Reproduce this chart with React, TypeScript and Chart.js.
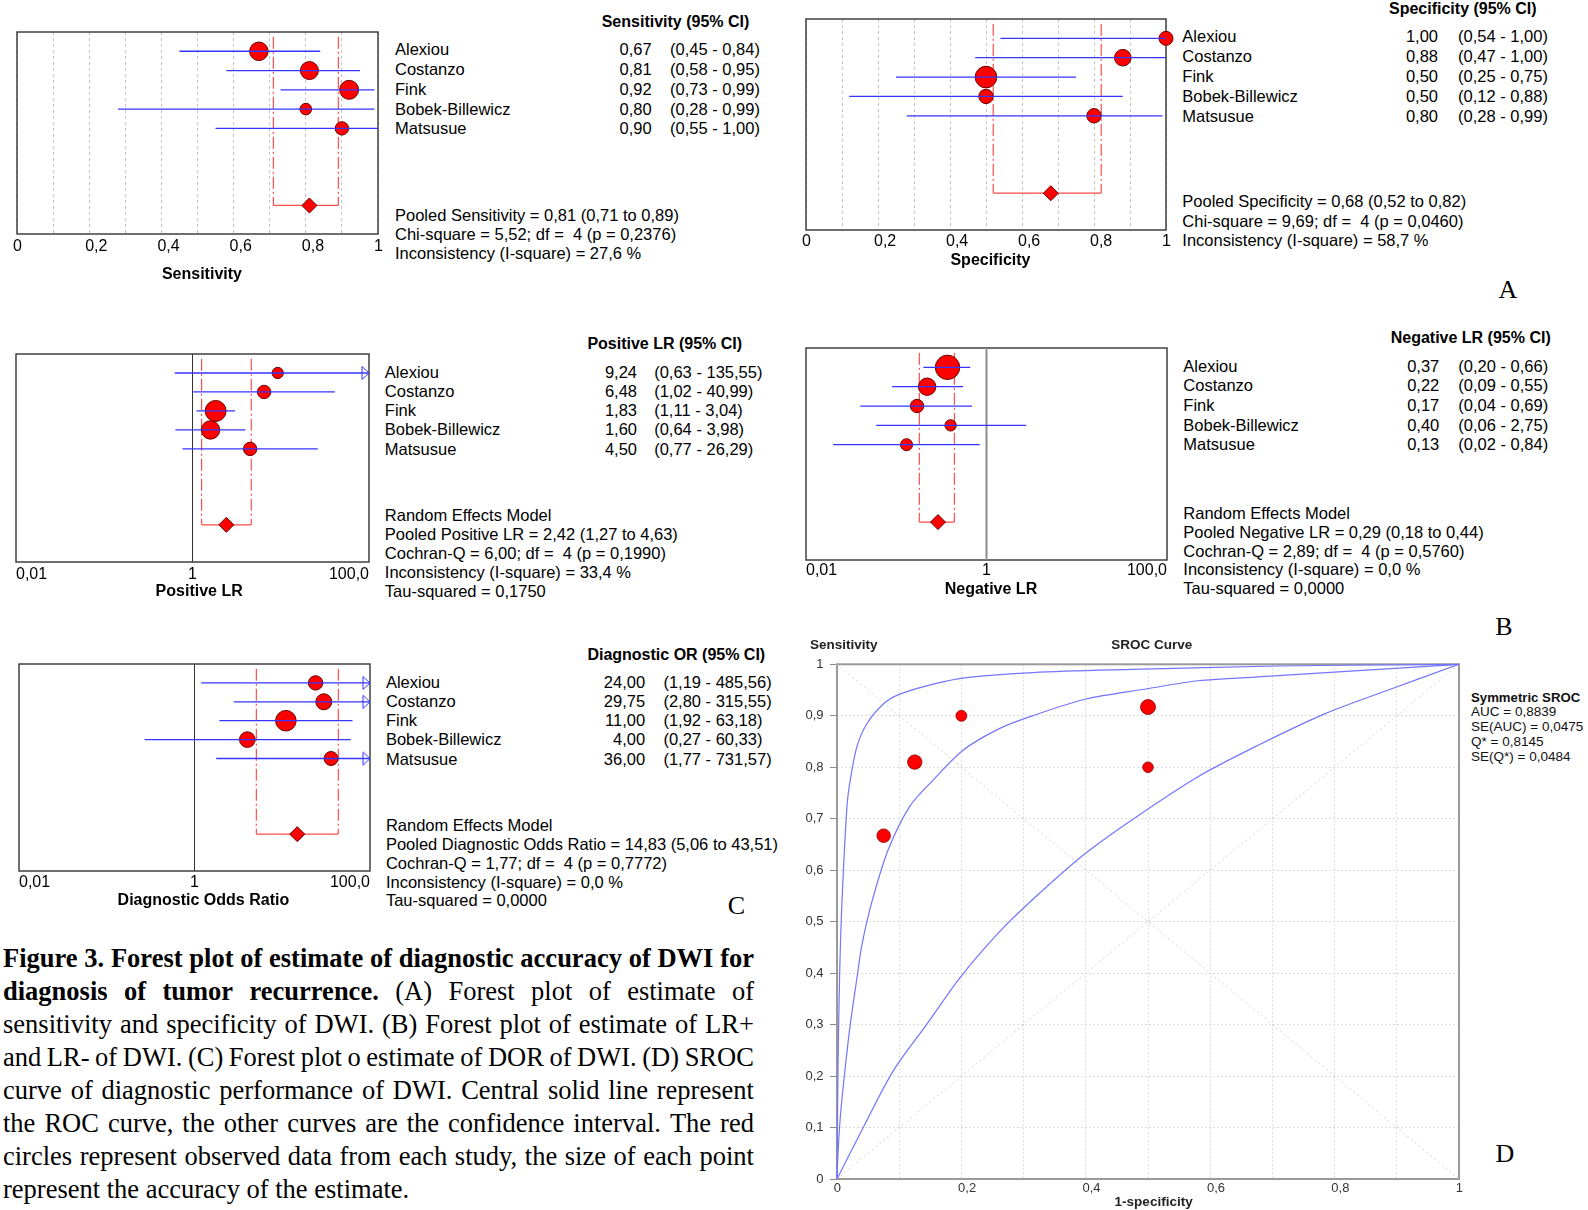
import React, { useEffect, useRef } from "react";
import { Chart, registerables } from "chart.js";

Chart.register(...registerables);

const SANS = '"Liberation Sans", Arial, Helvetica, sans-serif';
const SERIF = '"Liberation Serif", "Times New Roman", Times, serif';

// ---------------- data ----------------
const studies = ["Alexiou", "Costanzo", "Fink", "Bobek-Billewicz", "Matsusue"];

const sensEst = [0.67, 0.81, 0.92, 0.8, 0.9];
const sensLow = [0.45, 0.58, 0.73, 0.28, 0.55];
const sensHigh = [0.84, 0.95, 0.99, 0.99, 1.0];
const sensWeight = [86, 81, 90, 34, 45];
const sensPooled = [0.81, 0.71, 0.89];
const sensStats = ["Chi-square = 5,52; df =  4 (p = 0,2376)", "Inconsistency (I-square) = 27,6 %"];

const specEst = [1.0, 0.88, 0.5, 0.5, 0.8];
const specLow = [0.54, 0.47, 0.25, 0.12, 0.28];
const specHigh = [1.0, 1.0, 0.75, 0.88, 0.99];
const specWeight = [49, 69, 117, 52, 52];
const specPooled = [0.68, 0.52, 0.82];
const specStats = ["Chi-square = 9,69; df =  4 (p = 0,0460)", "Inconsistency (I-square) = 58,7 %"];

const plrEst = [9.24, 6.48, 1.83, 1.6, 4.5];
const plrLow = [0.63, 1.02, 1.11, 0.64, 0.77];
const plrHigh = [135.55, 40.99, 3.04, 3.98, 26.29];
const plrWeight = [32, 45, 110, 85, 45];
const plrPooled = [2.42, 1.27, 4.63];
const plrStats = ["Cochran-Q = 6,00; df =  4 (p = 0,1990)", "Inconsistency (I-square) = 33,4 %", "Tau-squared = 0,1750"];

const nlrEst = [0.37, 0.22, 0.17, 0.4, 0.13];
const nlrLow = [0.2, 0.09, 0.04, 0.06, 0.02];
const nlrHigh = [0.66, 0.55, 0.69, 2.75, 0.84];
const nlrWeight = [149, 76, 45, 32, 36];
const nlrPooled = [0.29, 0.18, 0.44];
const nlrStats = ["Cochran-Q = 2,89; df =  4 (p = 0,5760)", "Inconsistency (I-square) = 0,0 %", "Tau-squared = 0,0000"];

const dorEst = [24.0, 29.75, 11.0, 4.0, 36.0];
const dorLow = [1.19, 2.8, 1.92, 0.27, 1.77];
const dorHigh = [485.56, 315.55, 63.18, 60.33, 731.57];
const dorWeight = [52, 64, 106, 61, 49];
const dorPooled = [14.83, 5.06, 43.51];
const dorStats = ["Cochran-Q = 1,77; df =  4 (p = 0,7772)", "Inconsistency (I-square) = 0,0 %", "Tau-squared = 0,0000"];

const unitTicks = [0, 0.1, 0.2, 0.3, 0.4, 0.5, 0.6, 0.7, 0.8, 0.9, 1];
const unitTickLabels = ["0", "", "0,2", "", "0,4", "", "0,6", "", "0,8", "", "1"];
const logTicks = [0.01, 1, 100];
const logTickLabels = ["0,01", "1", "100,0"];
const srocYLabels = ["0", "0,1", "0,2", "0,3", "0,4", "0,5", "0,6", "0,7", "0,8", "0,9", "1"];

// SROC observed points
const srocFpr = [0.075, 0.125, 0.2, 0.5, 0.5];
const srocSens = [0.667, 0.81, 0.9, 0.917, 0.8];
const srocWeight = [46, 52, 30, 56, 28];
// SROC curve and its confidence limits
const srocMidX = [0, 0.0016, 0.0053, 0.0133, 0.0213, 0.032, 0.04, 0.056, 0.0826, 0.117, 0.1546, 0.2026, 0.261, 0.3146, 0.4, 0.496, 0.581, 0.677, 1];
const srocMidY = [0, 0.05, 0.12, 0.217, 0.3, 0.39, 0.4545, 0.538, 0.6405, 0.724, 0.775, 0.833, 0.875, 0.9, 0.9326, 0.952, 0.968, 0.9756, 1];
const srocUpX = [0, 0.0016, 0.0043, 0.008, 0.016, 0.0213, 0.032, 0.048, 0.0746, 0.101, 0.155, 0.208, 0.315, 0.475, 0.709, 1];
const srocUpY = [0, 0.217, 0.4, 0.538, 0.724, 0.775, 0.84, 0.8845, 0.923, 0.942, 0.9615, 0.974, 0.984, 0.99, 0.9967, 1];
const srocLoX = [0, 0.0426, 0.0906, 0.144, 0.197, 0.261, 0.3146, 0.3946, 0.4746, 0.581, 0.677, 0.784, 0.8906, 1];
const srocLoY = [0, 0.101, 0.2105, 0.3, 0.39, 0.48, 0.543, 0.628, 0.698, 0.782, 0.8427, 0.9037, 0.952, 1];
const diagX = [0, 1];
const chanceY = [0, 1];
const symY = [1, 0];
const srocLegend = ["AUC = 0,8839", "SE(AUC) = 0,0475", "Q* = 0,8145", "SE(Q*) = 0,0484"];

const caption: [string, string][] = [
  ["Figure 3. Forest plot of estimate of diagnostic accuracy of DWI for", ""],
  ["diagnosis of tumor recurrence.", "(A) Forest plot of estimate of"],
  ["", "sensitivity and specificity of DWI. (B) Forest plot of estimate of LR+"],
  ["", "and LR- of DWI. (C) Forest plot o estimate of DOR of DWI. (D) SROC"],
  ["", "curve of diagnostic performance of DWI. Central solid line represent"],
  ["", "the ROC curve, the other curves are the confidence interval. The red"],
  ["", "circles represent observed data from each study, the size of each point"],
  ["", "represent the accuracy of the estimate."],
];

// ---------------- helpers ----------------
const BLUE = "#3535ff";
const RED = "#ff0000";
const EDGE = "#6a0000";
const CURVE = "#7474ff";
const DIAMOND_ROW = 8;
const DASH_TOP = -0.75;
const PAD_X = 15;
const PAD_T = 6;

const fmt2 = (v: number) => v.toFixed(2).replace(".", ",");

type Box = { l: number; t: number; r: number; b: number };

function makeArrow(color: string) {
  const c = document.createElement("canvas");
  c.width = 16;
  c.height = 16;
  const g = c.getContext("2d")!;
  g.fillStyle = "#ffffff";
  g.strokeStyle = color;
  g.lineWidth = 1;
  g.beginPath();
  g.moveTo(1, 1.5);
  g.lineTo(8, 8);
  g.lineTo(1, 14.5);
  g.closePath();
  g.fill();
  g.stroke();
  return c;
}

function framePlugin(color: string, width: number) {
  return {
    id: "frame",
    beforeDatasetsDraw(chart: any) {
      const { ctx, chartArea: a } = chart;
      ctx.save();
      ctx.strokeStyle = color;
      ctx.lineWidth = width;
      ctx.strokeRect(a.left, a.top, a.right - a.left, a.bottom - a.top);
      ctx.restore();
    },
  };
}

function seg(data: { x: number; y: number }[], color: string, width: number, order: number, dash: number[] = [], tension = 0) {
  return {
    data,
    showLine: true,
    borderColor: color,
    borderWidth: width,
    borderDash: dash,
    pointRadius: 0,
    pointHoverRadius: 0,
    fill: false,
    tension,
    order,
    clip: false,
  };
}

type ForestSpec = {
  box: Box;
  est: number[];
  low: number[];
  high: number[];
  weight: number[];
  pooled: number[];
  log: boolean;
  title: string;
  yMax: number;
  tickPad: number;
  axisH: number;
  refColor?: string;
  refWidth?: number;
};

function forestConfig(s: ForestSpec): any {
  const ticks = s.log ? logTicks : unitTicks;
  const labels = s.log ? logTickLabels : unitTickLabels;
  const min = ticks[0];
  const max = ticks[ticks.length - 1];
  const ds: any[] = [];
  s.est.forEach((_, i) => {
    ds.push(seg([{ x: Math.max(s.low[i], min), y: i }, { x: Math.min(s.high[i], max), y: i }], BLUE, 1.3, 0));
  });
  const arrows = s.high.map((h, i) => ({ x: max, y: i, over: h > max })).filter((p) => p.over).map((p) => ({ x: p.x, y: p.y }));
  if (arrows.length) {
    ds.push({ data: arrows, pointStyle: makeArrow(BLUE), pointRadius: 8, order: 0, clip: false });
  }
  ds.push({
    data: s.est.map((v, i) => ({ x: v, y: i })),
    pointRadius: s.weight.map((w) => Math.sqrt(w)),
    backgroundColor: RED,
    borderColor: EDGE,
    borderWidth: 1,
    order: 1,
    clip: false,
  });
  const [pe, plo, phi] = s.pooled;
  ds.push({
    data: [{ x: pe, y: DIAMOND_ROW }],
    pointStyle: "rectRot",
    pointRadius: 7.5,
    backgroundColor: RED,
    borderColor: EDGE,
    borderWidth: 1,
    order: 0,
    clip: false,
  });
  ds.push(seg([{ x: plo, y: DIAMOND_ROW }, { x: phi, y: DIAMOND_ROW }], "#ff4a4a", 1.3, 2));
  ds.push(seg([{ x: plo, y: DASH_TOP }, { x: plo, y: DIAMOND_ROW }], "#ff2a2a", 1, 2, [12, 3, 2, 3]));
  ds.push(seg([{ x: phi, y: DASH_TOP }, { x: phi, y: DIAMOND_ROW }], "#ff2a2a", 1, 2, [12, 3, 2, 3]));
  if (s.refColor) {
    ds.push(seg([{ x: 1, y: -1 }, { x: 1, y: s.yMax }], s.refColor, s.refWidth || 1, 3));
  }
  return {
    type: "scatter",
    data: { datasets: ds },
    options: {
      responsive: false,
      animation: false,
      events: [],
      devicePixelRatio: 1,
      layout: { autoPadding: false, padding: { left: PAD_X, right: PAD_X, top: PAD_T, bottom: 0 } },
      plugins: { legend: { display: false }, tooltip: { enabled: false }, title: { display: false } },
      scales: {
        x: {
          type: s.log ? "logarithmic" : "linear",
          position: "bottom",
          min,
          max,
          afterBuildTicks: (a: any) => {
            a.ticks = ticks.map((v) => ({ value: v }));
          },
          afterFit: (a: any) => {
            a.height = s.axisH;
          },
          ticks: {
            autoSkip: false,
            maxRotation: 0,
            minRotation: 0,
            padding: s.tickPad,
            align: s.log ? "inner" : "start",
            labelOffset: s.log ? 0 : -4,
            font: { family: SANS, size: 16 },
            color: "#000",
            callback: (_v: any, i: number) => labels[i],
          },
          grid: { display: !s.log, drawTicks: false, color: "#c4c4c4", lineWidth: 1 },
          border: { display: false, dash: [3, 3] },
          title: {
            display: true,
            text: s.title,
            font: { family: SANS, size: 16, weight: "bold" },
            color: "#000",
            padding: 0,
          },
        },
        y: { type: "linear", min: -1, max: s.yMax, reverse: true, display: false },
      },
    },
    plugins: [framePlugin("#333333", 1.4)],
  };
}

function srocConfig(): any {
  const pts = (xs: number[], ys: number[]) => xs.map((x, i) => ({ x, y: ys[i] }));
  const ds: any[] = [
    {
      data: pts(srocFpr, srocSens),
      pointRadius: srocWeight.map((w) => Math.sqrt(w)),
      backgroundColor: RED,
      borderColor: "#8a0000",
      borderWidth: 0.8,
      order: 0,
      clip: false,
    },
    seg(pts(srocUpX, srocUpY), CURVE, 1.2, 1, [], 0.3),
    seg(pts(srocMidX, srocMidY), CURVE, 1.2, 1, [], 0.3),
    seg(pts(srocLoX, srocLoY), CURVE, 1.2, 1, [], 0.3),
    seg(pts(diagX, chanceY), "#d2d2d2", 1, 3, [2, 3]),
    seg(pts(diagX, symY), "#d2d2d2", 1, 3, [2, 3]),
  ];
  const tickFont = { family: SANS, size: 13 };
  return {
    type: "scatter",
    data: { datasets: ds },
    options: {
      responsive: false,
      animation: false,
      events: [],
      devicePixelRatio: 1,
      layout: { autoPadding: false, padding: { left: 0, right: 11, top: 10, bottom: 0 } },
      plugins: { legend: { display: false }, tooltip: { enabled: false }, title: { display: false } },
      scales: {
        x: {
          type: "linear",
          position: "bottom",
          min: 0,
          max: 1,
          afterBuildTicks: (a: any) => {
            a.ticks = unitTicks.map((v) => ({ value: v }));
          },
          afterFit: (a: any) => {
            a.height = 31;
          },
          ticks: {
            autoSkip: false,
            maxRotation: 0,
            padding: 1.5,
            align: "start",
            labelOffset: -3.3,
            font: tickFont,
            color: "#333",
            callback: (_v: any, i: number) => unitTickLabels[i],
          },
          grid: { drawTicks: false, color: "#dcdcdc", lineWidth: 1 },
          border: { display: false, dash: [2, 2] },
          title: {
            display: true,
            text: "   1-specificity",
            font: { family: SANS, size: 13.5, weight: "bold" },
            color: "#222",
            padding: 0,
          },
        },
        y: {
          type: "linear",
          position: "left",
          min: 0,
          max: 1,
          afterBuildTicks: (a: any) => {
            a.ticks = unitTicks.map((v) => ({ value: v }));
          },
          afterFit: (a: any) => {
            a.width = 47;
          },
          ticks: {
            autoSkip: false,
            padding: 6.5,
            font: tickFont,
            color: "#333",
            callback: (_v: any, i: number) => srocYLabels[i],
          },
          grid: { drawTicks: true, tickLength: 7, tickColor: "#8a8a8a", tickWidth: 1, tickBorderDash: [], color: "#dcdcdc", lineWidth: 1 },
          border: { display: false, dash: [2, 2] },
        },
      },
    },
    plugins: [framePlugin("#9a9a9a", 2)],
  };
}

function ChartCanvas({ x, y, w, h, build }: { x: number; y: number; w: number; h: number; build: () => any }) {
  const ref = useRef<HTMLCanvasElement | null>(null);
  useEffect(() => {
    if (!ref.current) return;
    const chart = new Chart(ref.current, build());
    return () => chart.destroy();
  }, []);
  return <canvas ref={ref} width={w} height={h} style={{ position: "absolute", left: x, top: y, width: w, height: h }} />;
}

function Txt({ x, y, text, size = 16.5, bold = false, align = "left", family = SANS, color = "#000" }: any) {
  const tx = align === "left" ? "0" : align === "right" ? "-100%" : "-50%";
  return (
    <div
      style={{
        position: "absolute",
        left: x,
        top: y,
        transform: `translate(${tx}, -50%)`,
        whiteSpace: "pre",
        fontFamily: family,
        fontSize: size,
        fontWeight: bold ? "bold" : "normal",
        lineHeight: 1.15,
        color,
      }}
    >
      {text}
    </div>
  );
}

type TextPos = { hx: number; hy: number; nx: number; vx: number; cx: number; ry: number; rs: number; sy: number; ss: number };

function ForestText({ pos, header, est, low, high, summary }: { pos: TextPos; header: string; est: number[]; low: number[]; high: number[]; summary: string[] }) {
  return (
    <>
      <Txt x={pos.hx} y={pos.hy} text={header} bold size={16} />
      {studies.map((name, i) => (
        <React.Fragment key={name}>
          <Txt x={pos.nx} y={pos.ry + i * pos.rs} text={name} />
          <Txt x={pos.vx} y={pos.ry + i * pos.rs} text={fmt2(est[i])} align="right" />
          <Txt x={pos.cx} y={pos.ry + i * pos.rs} text={`(${fmt2(low[i])} - ${fmt2(high[i])})`} />
        </React.Fragment>
      ))}
      {summary.map((t, i) => (
        <Txt key={i} x={pos.nx} y={pos.sy + i * pos.ss} text={t} />
      ))}
    </>
  );
}

function ForestChart({ spec }: { spec: ForestSpec }) {
  const { box } = spec;
  const x = box.l - PAD_X;
  const y = box.t - PAD_T;
  const w = box.r - box.l + 2 * PAD_X;
  const h = box.b - box.t + PAD_T + spec.axisH;
  return <ChartCanvas x={x} y={y} w={w} h={h} build={() => forestConfig(spec)} />;
}

const pooledLine = (label: string, p: number[]) => `${label} = ${fmt2(p[0])} (${fmt2(p[1])} to ${fmt2(p[2])})`;

const sensSpec: ForestSpec = { box: { l: 17, t: 32, r: 378, b: 234 }, est: sensEst, low: sensLow, high: sensHigh, weight: sensWeight, pooled: sensPooled, log: false, title: "  Sensitivity", yMax: 9.48, tickPad: 3.4, axisH: 50 };
const specSpec: ForestSpec = { box: { l: 806, t: 19, r: 1166, b: 230 }, est: specEst, low: specLow, high: specHigh, weight: specWeight, pooled: specPooled, log: false, title: "  Specificity", yMax: 9.9, tickPad: 2, axisH: 40 };
const plrSpec: ForestSpec = { box: { l: 16, t: 354, r: 369, b: 562 }, est: plrEst, low: plrLow, high: plrHigh, weight: plrWeight, pooled: plrPooled, log: true, title: "   Positive LR", yMax: 9.96, tickPad: 3.4, axisH: 39, refColor: "#333333", refWidth: 1 };
const nlrSpec: ForestSpec = { box: { l: 806, t: 348, r: 1167, b: 560 }, est: nlrEst, low: nlrLow, high: nlrHigh, weight: nlrWeight, pooled: nlrPooled, log: true, title: "  Negative LR", yMax: 9.96, tickPad: 1, axisH: 39, refColor: "#8c8c8c", refWidth: 2 };
const dorSpec: ForestSpec = { box: { l: 19, t: 664, r: 370, b: 871 }, est: dorEst, low: dorLow, high: dorHigh, weight: dorWeight, pooled: dorPooled, log: true, title: "    Diagnostic Odds Ratio", yMax: 9.95, tickPad: 1.7, axisH: 39, refColor: "#333333", refWidth: 1 };

function CaptionLine({ bold, normal, y, justify }: { bold: string; normal: string; y: number; justify: boolean }) {
  const words = [
    ...bold.split(" ").filter(Boolean).map((w) => ({ w, b: true })),
    ...normal.split(" ").filter(Boolean).map((w) => ({ w, b: false })),
  ];
  const base: React.CSSProperties = {
    position: "absolute",
    left: 3,
    top: y,
    transform: "translateY(-50%)",
    fontFamily: SERIF,
    fontSize: 26.5,
    lineHeight: 1.15,
    whiteSpace: "nowrap",
    color: "#000",
  };
  if (!justify) {
    return (
      <div style={base}>
        {words.map((it, i) => (
          <span key={i} style={{ fontWeight: it.b ? "bold" : "normal" }}>
            {(i ? " " : "") + it.w}
          </span>
        ))}
      </div>
    );
  }
  return (
    <div style={{ ...base, width: 751, display: "flex", justifyContent: "space-between" }}>
      {words.map((it, i) => (
        <span key={i} style={{ fontWeight: it.b ? "bold" : "normal" }}>
          {it.w}
        </span>
      ))}
    </div>
  );
}

export default function App() {
  return (
    <div style={{ position: "absolute", left: 0, top: 0, width: 1588, height: 1210, overflow: "hidden", background: "#ffffff" }}>
      {/* Panel A */}
      <ForestChart spec={sensSpec} />
      <ForestText
        pos={{ hx: 601.7, hy: 21.7, nx: 395, vx: 651.7, cx: 670, ry: 49.3, rs: 19.75, sy: 215, ss: 19.2 }}
        header="Sensitivity (95% CI)"
        est={sensEst}
        low={sensLow}
        high={sensHigh}
        summary={[pooledLine("Pooled Sensitivity", sensPooled), ...sensStats]}
      />
      <ForestChart spec={specSpec} />
      <ForestText
        pos={{ hx: 1389, hy: 9, nx: 1182.3, vx: 1438, cx: 1458, ry: 36, rs: 19.9, sy: 201, ss: 19.5 }}
        header="Specificity (95% CI)"
        est={specEst}
        low={specLow}
        high={specHigh}
        summary={[pooledLine("Pooled Specificity", specPooled), ...specStats]}
      />
      <Txt x={1508} y={290} text="A" size={26} family={SERIF} align="center" />

      {/* Panel B */}
      <ForestChart spec={plrSpec} />
      <ForestText
        pos={{ hx: 587.4, hy: 344.3, nx: 384.8, vx: 637, cx: 654.2, ry: 371.7, rs: 19.25, sy: 515.3, ss: 19 }}
        header="Positive LR (95% CI)"
        est={plrEst}
        low={plrLow}
        high={plrHigh}
        summary={["Random Effects Model", pooledLine("Pooled Positive LR", plrPooled), ...plrStats]}
      />
      <ForestChart spec={nlrSpec} />
      <ForestText
        pos={{ hx: 1390.7, hy: 338.3, nx: 1183.3, vx: 1439.3, cx: 1458.3, ry: 365.7, rs: 19.6, sy: 512.7, ss: 18.9 }}
        header="Negative LR (95% CI)"
        est={nlrEst}
        low={nlrLow}
        high={nlrHigh}
        summary={["Random Effects Model", pooledLine("Pooled Negative LR", nlrPooled), ...nlrStats]}
      />
      <Txt x={1504} y={627} text="B" size={26} family={SERIF} align="center" />

      {/* Panel C */}
      <ForestChart spec={dorSpec} />
      <ForestText
        pos={{ hx: 587.4, hy: 655.3, nx: 385.9, vx: 645.1, cx: 663.4, ry: 681.6, rs: 19.25, sy: 825.4, ss: 18.7 }}
        header="Diagnostic OR (95% CI)"
        est={dorEst}
        low={dorLow}
        high={dorHigh}
        summary={["Random Effects Model", pooledLine("Pooled Diagnostic Odds Ratio", dorPooled), ...dorStats]}
      />
      <Txt x={736.3} y={906.4} text="C" size={26} family={SERIF} align="center" />

      {/* Panel D */}
      <ChartCanvas x={790} y={650} w={680} h={560} build={srocConfig} />
      <Txt x={810} y={645} text="Sensitivity" size={13.5} bold color="#222" />
      <Txt x={1151.7} y={645} text="SROC Curve" size={13.5} bold color="#222" align="center" />
      <Txt x={1471} y={698.3} text="Symmetric SROC" size={13.2} bold color="#111" />
      {srocLegend.map((t, i) => (
        <Txt key={t} x={1471} y={711.5 + i * 15} text={t} size={13.5} color="#111" />
      ))}
      <Txt x={1505} y={1153.5} text="D" size={26} family={SERIF} align="center" />

      {/* Caption */}
      {caption.map(([b, n], i) => (
        <CaptionLine key={i} bold={b} normal={n} y={958 + i * 33} justify={i < caption.length - 1} />
      ))}
    </div>
  );
}
